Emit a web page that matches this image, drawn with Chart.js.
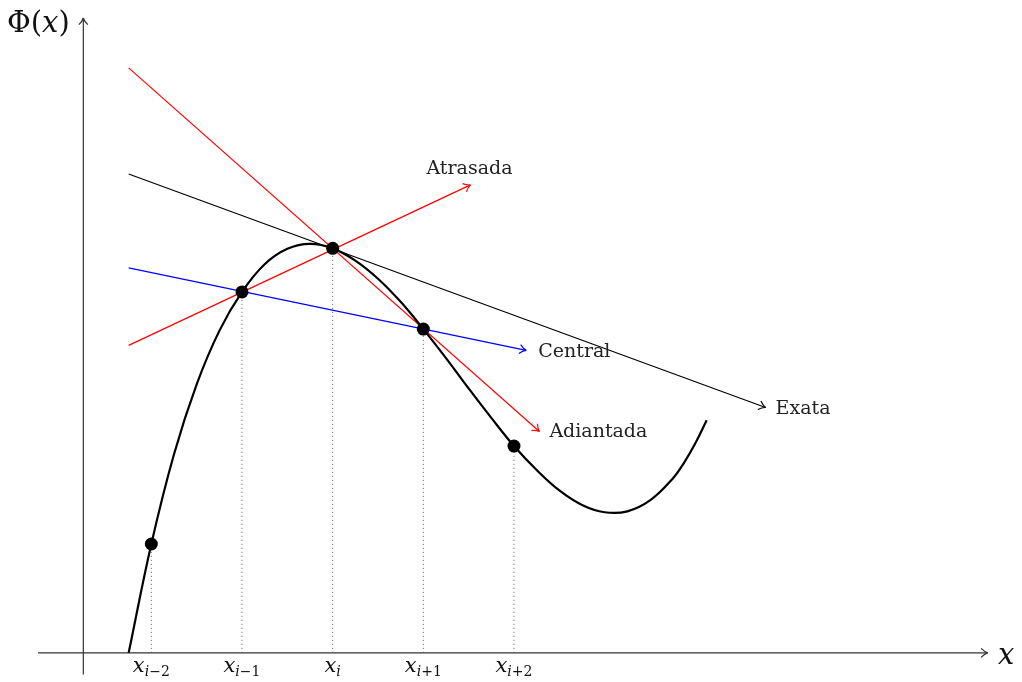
<!DOCTYPE html>
<html>
<head>
<meta charset="utf-8">
<script src="https://cdn.jsdelivr.net/npm/chart.js@4/dist/chart.umd.min.js"></script>
<style>
  body { margin: 0; background: #fff; }
  #wrap { width: 1022px; height: 682px; }
</style>
</head>
<body>
<div id="wrap"><canvas id="chart"></canvas></div>
<script>
// nodes x_{i-2} .. x_{i+2}
const nodeX = [1.5, 3.5, 5.5, 7.5, 9.5];
const nodeY = [2.4, 7.96, 8.92, 7.14, 4.56];
const nodeLabels = ["i\u22122", "i\u22121", "i", "i+1", "i+2"];

// Phi(x)
const curveX = [1, 1.5, 2, 2.5, 3, 3.5, 4, 4.5, 5, 5.5, 6, 6.5, 7, 7.5, 8, 8.5, 9, 9.5, 10, 10.5, 11, 11.5, 12, 12.5, 13, 13.25, 13.5, 13.75];
const curveY = [0, 2.4, 4.38, 5.92, 7.1, 7.96, 8.57, 8.91, 9.02, 8.92, 8.65, 8.25, 7.74, 7.14, 6.5, 5.83, 5.18, 4.56, 4.03, 3.58, 3.26, 3.1, 3.12, 3.36, 3.84, 4.19, 4.62, 5.13];

// approximations of the derivative at x_i (start and end of each line)
const exataX = [1, 15.05],      exataY = [10.56, 5.41];
const atrasadaX = [1, 8.54],    atrasadaY = [6.78, 10.32];
const centralX = [1, 9.77],     centralY = [8.49, 6.67];
const adiantadaX = [1, 10.06],  adiantadaY = [12.9, 4.88];

const toPts = (xs, ys) => xs.map((x, i) => ({ x: x, y: ys[i] }));

const datasets = [];

datasets.push({
  data: toPts(nodeX, nodeY),
  showLine: false,
  pointRadius: 6.5,
  pointBackgroundColor: "#000",
  pointBorderWidth: 0
});

datasets.push({
  data: toPts(curveX, curveY),
  showLine: true,
  borderColor: "#000",
  borderWidth: 2.2,
  pointRadius: 0,
  tension: 0.4
});

const lineStyle = (xs, ys, color, label) => ({
  data: toPts(xs, ys),
  showLine: true,
  borderColor: color,
  borderWidth: 1.2,
  pointRadius: 0,
  arrow: true,
  tag: label
});

datasets.push(lineStyle(exataX, exataY, "#000", { text: "Exata", dx: 10, dy: 2, align: "left" }));
datasets.push(lineStyle(atrasadaX, atrasadaY, "#ff0000", { text: "Atrasada", dx: -1, dy: -16, align: "center" }));
datasets.push(lineStyle(centralX, centralY, "#0000ff", { text: "Central", dx: 12, dy: 2, align: "left" }));
datasets.push(lineStyle(adiantadaX, adiantadaY, "#ff0000", { text: "Adiantada", dx: 10, dy: 1, align: "left" }));

// dotted drops from the nodes to the axis
nodeX.forEach((x, i) => {
  datasets.push({
    data: [{ x: x, y: 0 }, { x: x, y: nodeY[i] }],
    showLine: true,
    borderColor: "#555",
    borderWidth: 1,
    borderDash: [1, 3],
    pointRadius: 0
  });
});

// axes
datasets.push({
  data: [{ x: -1, y: 0 }, { x: 19.95, y: 0 }],
  showLine: true, borderColor: "#333", borderWidth: 1.2, pointRadius: 0, arrow: true
});
datasets.push({
  data: [{ x: 0, y: -0.48 }, { x: 0, y: 14 }],
  showLine: true, borderColor: "#333", borderWidth: 1.2, pointRadius: 0, arrow: true
});

const serif = '"DejaVu Serif", "Liberation Serif", serif';

const decor = {
  id: "decor",
  afterDatasetsDraw(chart) {
    const ctx = chart.ctx;
    const xs = chart.scales.x, ys = chart.scales.y;
    ctx.save();
    chart.data.datasets.forEach(ds => {
      if (!ds.arrow) return;
      const n = ds.data.length;
      const a = ds.data[n - 2], b = ds.data[n - 1];
      const x1 = xs.getPixelForValue(a.x), y1 = ys.getPixelForValue(a.y);
      const x2 = xs.getPixelForValue(b.x), y2 = ys.getPixelForValue(b.y);
      const ang = Math.atan2(y2 - y1, x2 - x1);
      ctx.strokeStyle = ds.borderColor;
      ctx.lineWidth = ds.borderWidth;
      ctx.beginPath();
      [-1, 1].forEach(s => {
        const t = ang + Math.PI + s * 0.6;
        ctx.moveTo(x2 + 8 * Math.cos(t), y2 + 8 * Math.sin(t));
        ctx.quadraticCurveTo(x2 + 3 * Math.cos(ang + Math.PI + s * 0.25), y2 + 3 * Math.sin(ang + Math.PI + s * 0.25), x2, y2);
      });
      ctx.stroke();
      if (ds.tag) {
        ctx.fillStyle = "#222";
        ctx.font = "19px " + serif;
        ctx.textAlign = ds.tag.align;
        ctx.textBaseline = "middle";
        ctx.fillText(ds.tag.text, x2 + ds.tag.dx, y2 + ds.tag.dy);
      }
    });

    // node labels x_{...}
    ctx.fillStyle = "#111";
    ctx.textBaseline = "alphabetic";
    const base = ys.getPixelForValue(0) + 19;
    nodeX.forEach((x, i) => {
      const px = xs.getPixelForValue(x);
      const sub = nodeLabels[i];
      ctx.font = "italic 21px " + serif;
      const w1 = ctx.measureText("x").width;
      ctx.font = "italic 14px " + serif;
      const wi = ctx.measureText("i").width;
      ctx.font = "14px " + serif;
      const w2 = ctx.measureText(sub.slice(1)).width;
      const left = px - (w1 + wi + w2) / 2;
      ctx.textAlign = "left";
      ctx.font = "italic 21px " + serif;
      ctx.fillText("x", left, base);
      ctx.font = "italic 14px " + serif;
      ctx.fillText("i", left + w1, base + 4);
      if (sub.length > 1) {
        ctx.font = "14px " + serif;
        ctx.fillText(sub.slice(1), left + w1 + wi, base + 4);
      }
    });

    // axis titles
    ctx.fillStyle = "#111";
    ctx.font = "29px " + serif;
    ctx.textAlign = "left";
    ctx.fillText("\u03A6(", 7, 32);
    const wPhi = ctx.measureText("\u03A6(").width;
    ctx.font = "italic 29px " + serif;
    ctx.fillText("x", 7 + wPhi, 32);
    const wx = ctx.measureText("x").width;
    ctx.font = "29px " + serif;
    ctx.fillText(")", 7 + wPhi + wx, 32);

    ctx.font = "italic 29px " + serif;
    ctx.fillText("x", 998, 664);
    ctx.restore();
  }
};

new Chart(document.getElementById("chart"), {
  type: "scatter",
  data: { datasets: datasets },
  options: {
    responsive: true,
    maintainAspectRatio: false,
    animation: false,
    layout: { padding: { left: 38, right: 32, top: 18, bottom: 5 } },
    plugins: { legend: { display: false }, tooltip: { enabled: false } },
    scales: {
      x: { type: "linear", min: -1, max: 20, display: false },
      y: { type: "linear", min: -0.5, max: 14, display: false }
    }
  },
  plugins: [decor]
});
</script>
</body>
</html>
